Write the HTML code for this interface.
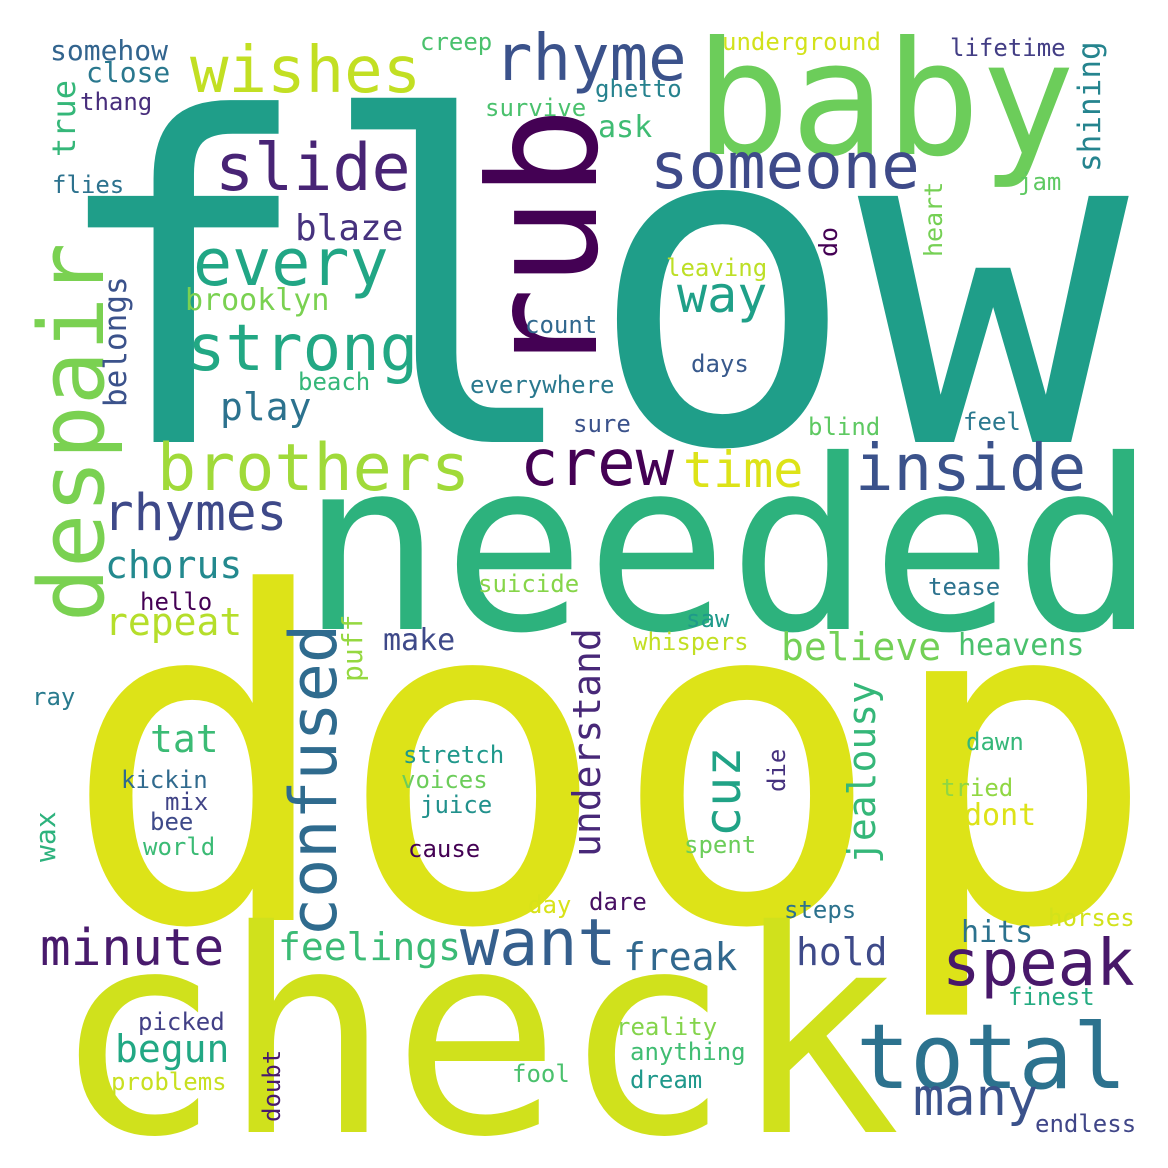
<!DOCTYPE html>
<html><head><meta charset="utf-8"><style>
html,body{margin:0;padding:0;background:#fff;}
svg{display:block;}
text{font-family:"DejaVu Sans Mono","Liberation Mono",monospace;}
</style></head><body>
<svg id="cloud" width="1168" height="1168" viewBox="0 0 1168 1168" xmlns="http://www.w3.org/2000/svg">
<rect width="1168" height="1168" fill="#fff"/>
</svg>
<script>
// [word, x, baselineY, fontSize, color, rotated]
const words = [
["flow",45,442,450,"#1f9e89",0],
["doop",62,920,455,"#dde318",0],
["check",52,1132,282,"#d0e11c",0],
["needed",300,629,237,"#2db27d",0],
["baby",695,154,158,"#6ccd5a",0],
["rub",596,378,150,"#440154",1],
["despair",103,622,90,"#7ad151",1],
["confused",336,937,65,"#2f6b8e",1],
["understand",600,857,38,"#482878",1],
["jealousy",875,864,38,"#35b779",1],
["cuz",740,837,50,"#20a386",1],
["true",75,157,32,"#35b779",1],
["shining",1100,172,31,"#25848e",1],
["belongs",126,407,31,"#3b528b",1],
["heart",942,257,25,"#75d054",1],
["do",837,257,25,"#440154",1],
["puff",362,682,28,"#95d840",1],
["wax",55,862,28,"#2db27d",1],
["die",785,792,24,"#46327e",1],
["doubt",280,1122,24,"#481a6c",1],
["somehow",50,60,28,"#32648e",0],
["close",86,82,28,"#2a788e",0],
["thang",80,110,24,"#472d7b",0],
["wishes",190,92,64,"#c2df23",0],
["creep",420,50,24,"#4ac16d",0],
["rhyme",494,80,64,"#3b528b",0],
["underground",722,50,24,"#d2e21b",0],
["lifetime",950,56,24,"#433e85",0],
["survive",485,116,24,"#4ac16d",0],
["ghetto",595,97,24,"#26828e",0],
["ask",598,137,30,"#3fbc73",0],
["slide",215,190,65,"#482475",0],
["someone",650,188,64,"#3e4a89",0],
["flies",52,193,24,"#2c728e",0],
["jam",1018,190,24,"#5ec962",0],
["blaze",295,240,36,"#46327e",0],
["every",193,285,65,"#21a685",0],
["leaving",666,276,24,"#bddf26",0],
["way",677,312,50,"#1fa088",0],
["brooklyn",185,310,30,"#7ad151",0],
["strong",187,370,64,"#22a884",0],
["count",525,333,24,"#31688e",0],
["beach",298,390,24,"#35b779",0],
["everywhere",470,393,24,"#2a788e",0],
["days",691,372,24,"#38598c",0],
["play",220,420,38,"#2c728e",0],
["sure",573,432,24,"#3b528b",0],
["blind",808,435,24,"#5ec962",0],
["feel",963,430,24,"#2a788e",0],
["brothers",157,490,65,"#a0da39",0],
["crew",520,485,64,"#440154",0],
["time",683,487,50,"#dde318",0],
["inside",855,490,64,"#3b528b",0],
["rhymes",103,530,51,"#3e4989",0],
["chorus",105,578,38,"#23898e",0],
["suicide",478,592,24,"#86d549",0],
["tease",928,595,24,"#2c728e",0],
["hello",140,610,24,"#440154",0],
["repeat",105,635,38,"#b5de2b",0],
["saw",686,627,24,"#1f9a8a",0],
["whispers",633,650,24,"#c2df23",0],
["make",383,650,30,"#3e4989",0],
["believe",781,660,38,"#73d056",0],
["heavens",958,655,30,"#4ac16d",0],
["ray",32,705,24,"#297b8e",0],
["tat",150,752,38,"#3bbb75",0],
["stretch",403,763,24,"#1f988b",0],
["dawn",966,750,24,"#35b779",0],
["kickin",121,788,24,"#306a8e",0],
["voices",401,788,24,"#6ccd5a",0],
["mix",165,810,24,"#414487",0],
["tried",941,796,24,"#90d743",0],
["juice",420,813,24,"#21918c",0],
["bee",150,830,24,"#3e4a89",0],
["dont",964,825,30,"#dde318",0],
["world",143,855,24,"#3bbb75",0],
["spent",684,853,24,"#6ccd5a",0],
["cause",408,857,24,"#440154",0],
["day",528,913,24,"#d8e219",0],
["dare",589,910,24,"#471063",0],
["steps",784,918,24,"#2c728e",0],
["horses",1048,926,24,"#d2e21b",0],
["minute",40,965,51,"#481a6c",0],
["feelings",278,960,38,"#3bbb75",0],
["want",460,965,65,"#355f8d",0],
["freak",623,970,38,"#31688e",0],
["hold",796,965,38,"#3e4a89",0],
["hits",961,942,30,"#2c728e",0],
["speak",942,985,64,"#48186a",0],
["finest",1008,1005,24,"#25ab82",0],
["picked",138,1030,24,"#424086",0],
["begun",115,1062,38,"#22a884",0],
["reality",616,1035,24,"#84d44b",0],
["anything",630,1060,24,"#40bd72",0],
["total",856,1088,90,"#2c728e",0],
["problems",111,1090,24,"#c8e020",0],
["fool",512,1082,24,"#4ac16d",0],
["dream",630,1088,24,"#1f988b",0],
["many",913,1115,52,"#3b528b",0],
["endless",1035,1132,24,"#404688",0]
];
const svg = document.getElementById('cloud');
const NS = "http://www.w3.org/2000/svg";
for (const w of words) {
  const t = document.createElementNS(NS, 'text');
  t.setAttribute('font-size', w[3]);
  t.setAttribute('fill', w[4]);
  if (w[5]) {
    t.setAttribute('transform', 'translate(' + w[1] + ',' + w[2] + ') rotate(-90)');
    t.setAttribute('x', 0);
    t.setAttribute('y', 0);
  } else {
    t.setAttribute('x', w[1]);
    t.setAttribute('y', w[2]);
  }
  t.textContent = w[0];
  
  
  svg.appendChild(t);
}
</script>
</body></html>
